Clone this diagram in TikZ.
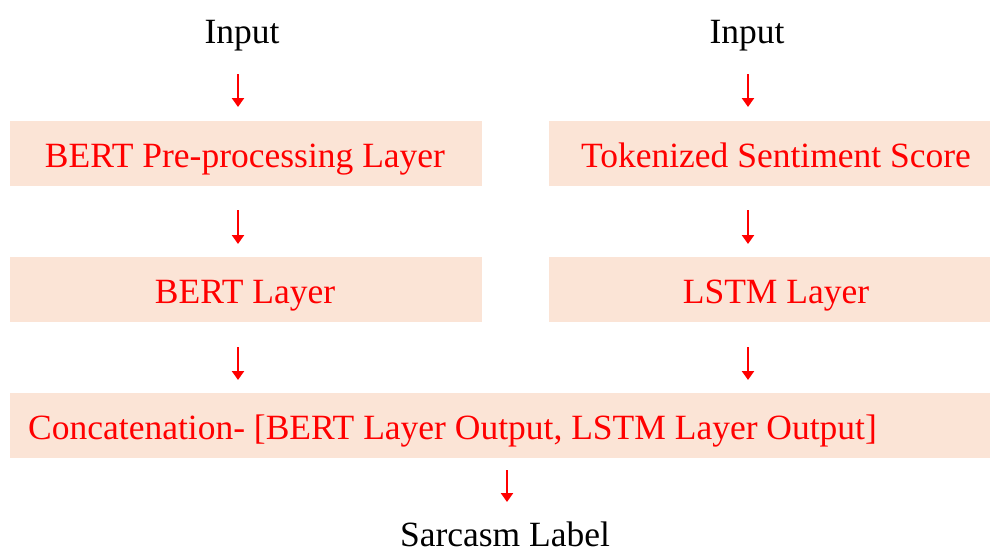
\documentclass[tikz,border=0pt]{standalone}
\usepackage{fontspec}
\setmainfont{Liberation Serif}
\usetikzlibrary{arrows.meta}

\definecolor{boxfill}{HTML}{FBE4D6}
\definecolor{flowred}{HTML}{FF0000}

\tikzset{
  stage/.style={draw=none, fill=boxfill, inner sep=0pt, outer sep=0pt},
  stagetext/.style={text=flowred, anchor=base, inner sep=0pt,
                    font=\fontsize{35.5}{40}\selectfont},
  plaintext/.style={text=black, anchor=base, inner sep=0pt,
                    font=\fontsize{35.5}{40}\selectfont},
  flow/.style={draw=flowred, line width=2.4pt,
               -{Triangle[width=12pt,length=9pt]}},
}

\begin{document}
\begin{tikzpicture}[x=1pt, y=-1pt]
  \useasboundingbox (0,0) rectangle (990,552);

  % input labels
  \node[plaintext] (inL) at (242,43) {Input};
  \node[plaintext] (inR) at (747,43) {Input};

  % stage boxes
  \node[stage, minimum width=472pt, minimum height=65pt] (pre)  at (246,153.5) {};
  \node[stage, minimum width=441pt, minimum height=65pt] (tok)  at (769.5,153.5) {};
  \node[stage, minimum width=472pt, minimum height=65pt] (bert) at (246,289.5) {};
  \node[stage, minimum width=441pt, minimum height=65pt] (lstm) at (769.5,289.5) {};
  \node[stage, minimum width=980pt, minimum height=65pt] (cat)  at (500,425.5) {};

  % stage captions
  \node[stagetext] (preT)  at (245,167) {BERT Pre-processing Layer};
  \node[stagetext] (tokT)  at (776,167) {Tokenized Sentiment Score};
  \node[stagetext] (bertT) at (245,303) {BERT Layer};
  \node[stagetext] (lstmT) at (776,303) {LSTM Layer};
  \node[stagetext, anchor=base west] (catT) at (28,439)
        {Concatenation- [BERT Layer Output, LSTM Layer Output]};

  % output label
  \node[plaintext] (out) at (505,546.5) {Sarcasm Label};

  % arrow end points between the rows
  \coordinate (l1s) at (238,74);  \coordinate (l1e) at (238,107);
  \coordinate (r1s) at (748,74);  \coordinate (r1e) at (748,107);
  \coordinate (l2s) at (238,210); \coordinate (l2e) at (238,244);
  \coordinate (r2s) at (748,210); \coordinate (r2e) at (748,244);
  \coordinate (l3s) at (238,347); \coordinate (l3e) at (238,380);
  \coordinate (r3s) at (748,347); \coordinate (r3e) at (748,380);
  \coordinate (cs)  at (507,470); \coordinate (ce)  at (507,502);

  \draw[flow] (l1s) -- (l1e);
  \draw[flow] (r1s) -- (r1e);
  \draw[flow] (l2s) -- (l2e);
  \draw[flow] (r2s) -- (r2e);
  \draw[flow] (l3s) -- (l3e);
  \draw[flow] (r3s) -- (r3e);
  \draw[flow] (cs) -- (ce);
\end{tikzpicture}
\end{document}
